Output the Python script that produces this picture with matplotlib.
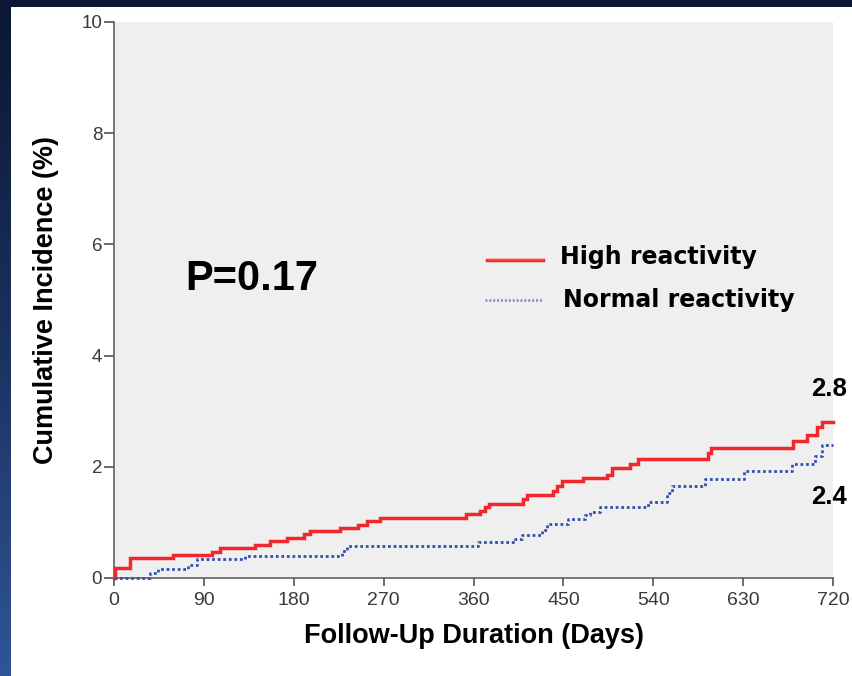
import numpy as np
import matplotlib
matplotlib.use("Agg")
import matplotlib.pyplot as plt
from matplotlib.colors import LinearSegmentedColormap

# Cumulative incidence (%) step data by platelet reactivity group
high_days = [0, 1, 16, 59, 98, 106, 141, 156, 173, 190, 196, 226, 244, 253, 266,
             352, 367, 372, 376, 410, 414, 440, 444, 449, 470, 494, 499, 517, 525,
             595, 598, 680, 694, 704, 709, 720]
high_pct = [0.0, 0.18, 0.36, 0.41, 0.47, 0.54, 0.59, 0.66, 0.72, 0.79, 0.85, 0.90,
            0.96, 1.03, 1.08, 1.15, 1.20, 1.27, 1.33, 1.42, 1.50, 1.57, 1.65, 1.74,
            1.79, 1.86, 1.97, 2.05, 2.14, 2.25, 2.34, 2.47, 2.58, 2.71, 2.8, 2.8]

normal_days = [0, 36, 44, 74, 83, 131, 228, 233, 365, 402, 409, 429, 434, 455, 472,
               477, 487, 535, 554, 559, 592, 631, 679, 702, 709, 720]
normal_pct = [0.0, 0.09, 0.16, 0.23, 0.34, 0.40, 0.49, 0.58, 0.65, 0.71, 0.77, 0.86,
              0.97, 1.07, 1.13, 1.19, 1.28, 1.37, 1.53, 1.65, 1.78, 1.93, 2.05, 2.20,
              2.4, 2.4]

x_ticks = [0, 90, 180, 270, 360, 450, 540, 630, 720]
y_ticks = [0, 2, 4, 6, 8, 10]
series_names = ["High reactivity", "Normal reactivity"]
p_text = "P=0.17"

W, H = 852, 676
fig = plt.figure(figsize=(W / 100, H / 100), dpi=100)
fig.patch.set_facecolor("white")

# Slide frame: dark top band and a vertical gradient strip on the left
top_band = fig.add_axes([0, 1 - 7 / H, 1, 7 / H])
top_band.set_axis_off()
top_band.add_patch(plt.Rectangle((0, 0), 1, 1, color="#0b1733", transform=top_band.transAxes))

side = fig.add_axes([0, 0, 11 / W, 1 - 7 / H])
grad = LinearSegmentedColormap.from_list("frame", ["#0b1733", "#1b315f", "#2f5597"])
side.imshow(np.linspace(0, 1, 256)[:, None], aspect="auto", cmap=grad,
            extent=[0, 1, 0, 1], origin="upper")
side.set_axis_off()

ax = fig.add_axes([114 / W, 1 - 578 / H, (833 - 114) / W, (578 - 22) / H])
ax.set_facecolor("#efefef")

ax.step(high_days, high_pct, where="post", color="#f0282d", lw=2.5,
        solid_joinstyle="miter", zorder=4, clip_on=False)
ax.step(normal_days, normal_pct, where="post", color="#3350b0", lw=2.0,
        linestyle=(0, (1.0, 1.0)), zorder=4, clip_on=False)

ax.set_xlim(0, 720)
ax.set_ylim(0, 10)
ax.set_xticks(x_ticks)
ax.set_yticks(y_ticks)

for s in ("top", "right"):
    ax.spines[s].set_visible(False)
for s in ("left", "bottom"):
    ax.spines[s].set_color("#555555")
    ax.spines[s].set_linewidth(1.1)

tick_font = "Liberation Sans"
ax.tick_params(axis="x", direction="out", length=6, width=1.1, color="#444444",
               pad=4, labelsize=14, labelcolor="#3a3a3a")
ax.tick_params(axis="y", direction="out", length=7, width=1.1, color="#444444",
               pad=1.5, labelsize=13.5, labelcolor="#3a3a3a")
for lab in ax.get_xticklabels() + ax.get_yticklabels():
    lab.set_fontfamily(tick_font)

ax.set_xlabel("Follow-Up Duration (Days)", fontsize=19.5, fontweight="bold",
              fontfamily=tick_font, labelpad=10)
ax.set_ylabel("Cumulative Incidence (%)", fontsize=19.5, fontweight="bold",
              fontfamily=tick_font, labelpad=16)

ax.text(138, 5.37, p_text, fontsize=30, fontweight="bold", fontfamily=tick_font,
        ha="center", va="center")

# Legend drawn in axes coordinates
def ax_xy(px, py):
    return (px - 114) / (833 - 114), (578 - py) / (578 - 22)

x0, yl = ax_xy(487, 260)
x1, _ = ax_xy(543, 260)
ax.plot([x0, x1], [yl, yl], transform=ax.transAxes, color="#f0282d", lw=2.5)
ax.plot([x0, x1], [yl + 0.002, yl + 0.002], transform=ax.transAxes,
        color="#f06a3a", lw=1.0, alpha=0.7)
tx, ty = ax_xy(560, 257)
ax.text(tx, ty, series_names[0], transform=ax.transAxes, fontsize=17,
        fontweight="bold", fontfamily="DejaVu Sans", va="center", ha="left")

x0, yl = ax_xy(485, 300)
x1, _ = ax_xy(542, 300)
ax.plot([x0, x1], [yl, yl], transform=ax.transAxes, color="#7d93cc", lw=2.0,
        linestyle=(0, (0.7, 0.7)))
tx, ty = ax_xy(563, 300)
ax.text(tx, ty, series_names[1], transform=ax.transAxes, fontsize=17,
        fontweight="bold", fontfamily="DejaVu Sans", va="center", ha="left")

# End-of-follow-up values
ax.annotate(f"{high_pct[-1]:.1f}", xy=(high_days[-1], high_pct[-1]),
            xytext=(-3, 24), textcoords="offset points", ha="center", va="center",
            fontsize=18.5, fontweight="bold", fontfamily=tick_font,
            annotation_clip=False)
ax.annotate(f"{normal_pct[-1]:.1f}", xy=(normal_days[-1], normal_pct[-1]),
            xytext=(-3, -38), textcoords="offset points", ha="center", va="center",
            fontsize=18.5, fontweight="bold", fontfamily=tick_font,
            annotation_clip=False)

fig.savefig("out.png", dpi=100, facecolor="white")
